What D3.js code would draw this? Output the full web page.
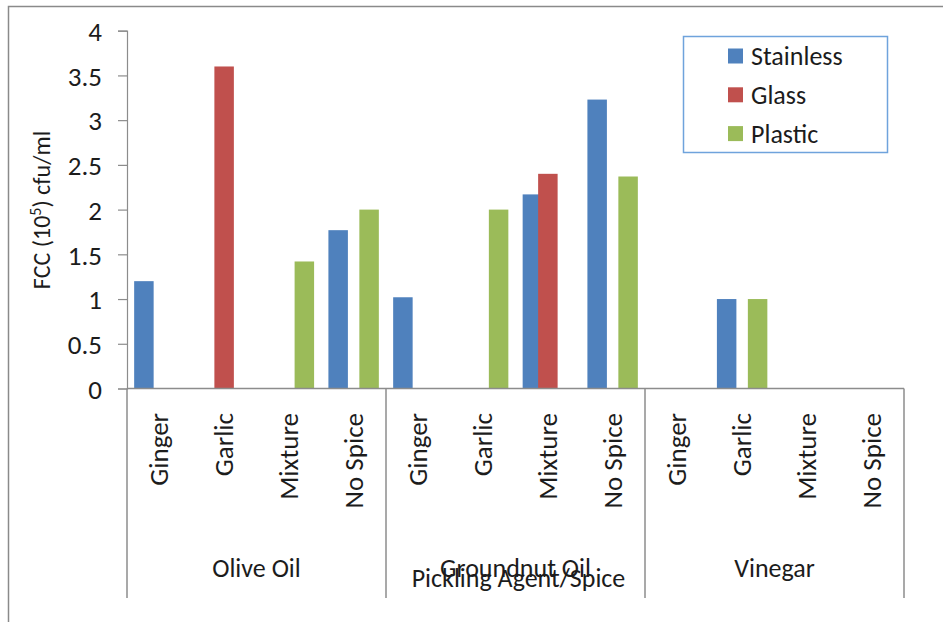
<!DOCTYPE html>
<html>
<head>
<meta charset="utf-8">
<script src="https://cdn.jsdelivr.net/npm/d3@7"></script>
<style>
  html, body { margin: 0; padding: 0; background: #fff; }
  svg { display: block; }
  text { font-family: Carlito, Calibri, Lato, sans-serif; fill: #1c1c1c; }
</style>
</head>
<body>
<svg id="chart" width="943" height="622"></svg>
<script>
// Pickling agents (outer level) and spices (inner level) on the category axis
const agents = ["Olive Oil", "Groundnut Oil", "Vinegar"];
const spices = ["Ginger", "Garlic", "Mixture", "No Spice"];

// Container types
const seriesNames = ["Stainless", "Glass", "Plastic"];
const seriesColors = ["#4F81BD", "#C0504D", "#9BBB59"];

// FCC values (10^5 cfu/ml), in order agent by agent, spice by spice
const stainless = [1.2, 0, 0, 1.77,   1.02, 0, 2.17, 3.23,   0, 1.0, 0, 0];
const glass     = [0, 3.6, 0, 0,      0, 0, 2.4, 0,          0, 0, 0, 0];
const plastic   = [0, 0, 1.42, 2.0,   0, 2.0, 0, 2.37,       0, 1.0, 0, 0];

const yTicks = [0, 0.5, 1, 1.5, 2, 2.5, 3, 3.5, 4];
const yTickLabels = ["0", "0.5", "1", "1.5", "2", "2.5", "3", "3.5", "4"];

const svg = d3.select("#chart");
const axisColor = "#8c8c8c";
const fontStack = "Carlito, Calibri, Lato, sans-serif";

// Outer chart frame
svg.append("rect")
  .attr("x", 8.5).attr("y", 6.5)
  .attr("width", 980).attr("height", 660)
  .attr("fill", "none").attr("stroke", "#8a8a8a").attr("stroke-width", 1.5);

const plot = { left: 127, right: 904, top: 30.7, bottom: 388.5 };

// Flat list of (agent, spice) categories
const cats = [];
agents.forEach(a => spices.forEach(s => cats.push({ agent: a, spice: s })));

const x0 = d3.scaleBand()
  .domain(d3.range(cats.length))
  .range([plot.left, plot.right])
  .paddingInner(0).paddingOuter(0);

const bw = x0.bandwidth();
const barFrac = 0.301, stepFrac = 0.239;
const startFrac = (1 - barFrac - 2 * stepFrac) / 2;
// series index -> offset inside a category (bars overlap slightly)
const x1 = d3.scaleLinear()
  .domain([0, seriesNames.length - 1])
  .range([startFrac * bw, (startFrac + 2 * stepFrac) * bw]);
const barW = barFrac * bw;

const y = d3.scaleLinear().domain([0, 4]).range([plot.bottom, plot.top]);

// Y axis
const yAxis = d3.axisLeft(y)
  .tickValues(yTicks)
  .tickFormat((d, i) => yTickLabels[i])
  .tickSize(9)
  .tickPadding(16);
const yg = svg.append("g").attr("transform", `translate(${plot.left},0)`).call(yAxis);
yg.attr("font-size", null).attr("font-family", null);
yg.select(".domain").attr("stroke", axisColor).attr("stroke-width", 1.2);
yg.selectAll(".tick line").attr("stroke", axisColor).attr("stroke-width", 1.2);
yg.selectAll(".tick text")
  .attr("font-size", 27)
  .attr("font-family", fontStack)
  .attr("fill", "#1c1c1c")
  .attr("dy", "0.36em");

// Y axis title with superscript exponent
const yTitle = svg.append("text")
  .attr("transform", `translate(50,210) rotate(-90)`)
  .attr("text-anchor", "middle")
  .attr("font-size", 24);
yTitle.append("tspan").text("FCC (10");
yTitle.append("tspan").attr("font-size", 16).attr("dy", -9).text("5");
yTitle.append("tspan").attr("dy", 9).text(") cfu/ml");

// Bars, drawn series by series so later series sit on top
const seriesData = [stainless, glass, plastic];
seriesData.forEach((vals, si) => {
  svg.append("g")
    .selectAll("rect")
    .data(vals.map((v, ci) => ({ v, ci })).filter(d => d.v > 0))
    .join("rect")
    .attr("x", d => x0(d.ci) + x1(si))
    .attr("y", d => y(d.v))
    .attr("width", barW)
    .attr("height", d => y(0) - y(d.v))
    .attr("fill", seriesColors[si]);
});

// Category axis line
svg.append("line")
  .attr("x1", plot.left).attr("x2", plot.right)
  .attr("y1", plot.bottom).attr("y2", plot.bottom)
  .attr("stroke", axisColor).attr("stroke-width", 1.5);

// Group dividers on the multi-level category axis
const dividerX = [0, 4, 8].map(i => x0(i)).concat([plot.right]);
svg.append("g").selectAll("line")
  .data(dividerX)
  .join("line")
  .attr("x1", d => d).attr("x2", d => d)
  .attr("y1", plot.bottom).attr("y2", 598)
  .attr("stroke", axisColor).attr("stroke-width", 1.5);

// Spice labels (rotated)
svg.append("g").selectAll("text")
  .data(cats)
  .join("text")
  .attr("transform", (d, i) => `translate(${x0(i) + bw / 2 + 9},413) rotate(-90)`)
  .attr("text-anchor", "end")
  .attr("font-size", 27)
  .text(d => d.spice);

// Agent labels
svg.append("g").selectAll("text")
  .data(agents)
  .join("text")
  .attr("x", (d, i) => (x0(i * 4) + (i === agents.length - 1 ? plot.right : x0(i * 4 + 4))) / 2)
  .attr("y", 577)
  .attr("text-anchor", "middle")
  .attr("font-size", 26)
  .text(d => d);

// Category axis title
svg.append("text")
  .attr("x", (plot.left + plot.right) / 2 + 3)
  .attr("y", 587)
  .attr("text-anchor", "middle")
  .attr("font-size", 26)
  .text("Pickling Agent/Spice");

// Legend
const legend = svg.append("g");
legend.append("rect")
  .attr("x", 683.5).attr("y", 36.5)
  .attr("width", 204).attr("height", 116)
  .attr("fill", "#fff").attr("stroke", "#6FA3DC").attr("stroke-width", 1.5);
const legendRows = legend.selectAll("g.row")
  .data(seriesNames)
  .join("g")
  .attr("class", "row")
  .attr("transform", (d, i) => `translate(728,${56 + i * 38.8})`);
legendRows.append("rect")
  .attr("x", 0).attr("y", -7.5)
  .attr("width", 15).attr("height", 15)
  .attr("fill", (d, i) => seriesColors[i]);
legendRows.append("text")
  .attr("x", 23).attr("y", 0)
  .attr("dy", "0.35em")
  .attr("font-size", 26)
  .text(d => d);
</script>
</body>
</html>
